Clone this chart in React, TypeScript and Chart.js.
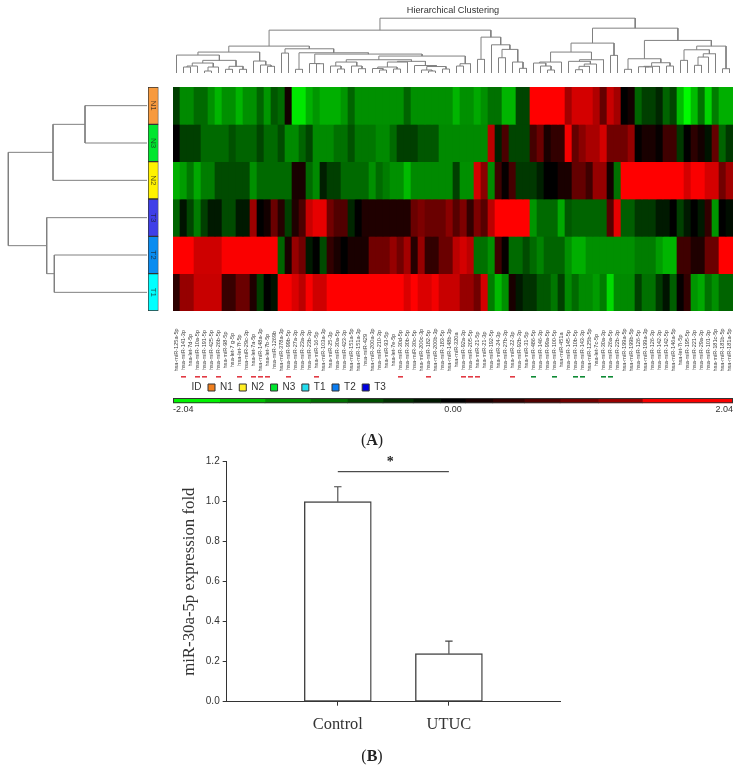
import React, { useEffect, useRef } from "react";
import { Chart, registerables } from "chart.js";

Chart.register(...registerables);

const SANS = '"Liberation Sans", Arial, sans-serif';
const SERIF = '"Liberation Serif", "Times New Roman", serif';

const mirLabels = [
  "hsa-miR-125a-5p","hsa-miR-141-3p","hsa-let-7d-5p","hsa-miR-10a-5p","hsa-miR-191-5p","hsa-miR-425-5p","hsa-miR-26b-5p","hsa-miR-98-5p","hsa-let-7 g-5p","hsa-let-7f-5p",
  "hsa-miR-29c-3p","hsa-let-7a-5p","hsa-miR-148a-3p","hsa-let-7b-5p","hsa-miR-1269b","hsa-miR-378a-3p","hsa-miR-99b-5p","hsa-miR-27a-3p","hsa-miR-23a-3p","hsa-miR-23b-3p",
  "hsa-miR-16-5p","hsa-miR-103a-3p","hsa-miR-25-3p","hsa-miR-30a-5p","hsa-miR-423-3p","hsa-miR-151a-5p","hsa-miR-151a-3p","hsa-miR-429","hsa-miR-200a-3p","hsa-miR-210-3p",
  "hsa-miR-93-5p","hsa-let-7e-5p","hsa-miR-30d-5p","hsa-miR-30b-5p","hsa-miR-30c-5p","hsa-miR-200c-3p","hsa-miR-182-5p","hsa-miR-200b-3p","hsa-miR-183-5p","hsa-miR-148b-3p",
  "hsa-miR-320a","hsa-miR-92a-3p","hsa-miR-205-5p","hsa-miR-21-5p","hsa-miR-21-3p","hsa-miR-192-5p","hsa-miR-24-3p","hsa-miR-27b-3p","hsa-miR-22-3p","hsa-miR-92b-3p",
  "hsa-miR-31-5p","hsa-miR-486-5p","hsa-miR-146-3p","hsa-miR-99a-5p","hsa-miR-100-5p","hsa-miR-451a","hsa-miR-145-5p","hsa-miR-10b-5p","hsa-miR-143-3p","hsa-miR-125b-5p",
  "hsa-let-7c-5p","hsa-miR-30a-3p","hsa-miR-26a-5p","hsa-miR-22b-3p","hsa-miR-199a-5p","hsa-miR-199b-5p","hsa-miR-126-5p","hsa-miR-199a-3p","hsa-miR-126-3p","hsa-miR-142-3p",
  "hsa-miR-142-5p","hsa-miR-146a-5p","hsa-let-7i-5p","hsa-miR-195-5p","hsa-miR-221-3p","hsa-miR-29a-3p","hsa-miR-101-3p","hsa-miR-181c-5p","hsa-miR-181b-5p","hsa-miR-181a-5p",
];

const sampleLabels = ["N1", "N3", "N2", "T3", "T2", "T1"];
const sampleColors = ["#F79A3E", "#00E62E", "#FFF200", "#3F3FE8", "#0A8CF0", "#00FFFF"];

const heatN1 = [
  -0.5,-1.1,-1.1,-0.85,-0.85,-1.15,-1.45,-1.15,-1.15,-1.45,
  -1.15,-1.15,-0.8,-1.2,-0.7,-0.85,0.15,-1.85,-1.85,-1.4,
  -1.2,-1.4,-1.4,-1.4,-1.2,-0.8,-1.15,-1.15,-1.15,-1.15,
  -1.15,-1.15,-1.15,-0.8,-1.15,-1.15,-1.15,-1.15,-1.15,-1.15,
  -1.45,-1.15,-1.15,-1.35,-1.15,-0.9,-0.9,-1.45,-1.45,-0.55,
  -0.55,2.04,2.04,2.04,2.04,2.04,1.3,1.7,1.7,1.7,
  1.4,0.8,1.6,1.3,0,0.15,-0.8,-0.5,-0.5,-0.3,
  -0.8,-0.55,-1.5,-2,-1.5,-0.9,-1.7,-1.0,-1.4,-1.4,
];
const heatN3 = [
  0,-0.5,-0.5,-0.5,-0.85,-0.85,-0.85,-0.85,-0.65,-0.8,
  -0.8,-0.8,-0.55,-0.85,-0.85,-0.6,-1.1,-1.1,-0.8,-0.55,
  -1.1,-1.1,-1.1,-0.9,-0.9,-0.65,-0.95,-0.95,-0.95,-1.1,
  -1.1,-0.85,-0.5,-0.5,-0.5,-0.7,-0.7,-0.7,-1.1,-1.1,
  -1.1,-1.1,-1.1,-1.1,-1.1,1.5,-0.25,0.6,-0.55,-0.55,
  -0.55,0.55,0.85,0.2,0.4,0.4,1.95,0.8,1.1,1.35,
  1.35,1.7,0.9,0.9,0.9,1.2,0.03,0.2,0.2,0.05,
  0.5,0.5,-0.45,0,0.35,0.15,-0.15,0.8,-0.8,-0.45,
];
const heatN2 = [
  -1.4,-1.25,-0.95,-1.35,-1.0,-1.0,-0.6,-0.6,-0.6,-0.6,
  -0.6,-1.15,-0.85,-0.85,-0.85,-0.85,-0.85,0.2,0.2,-0.85,
  -1.1,-0.25,-0.5,-0.5,-0.85,-0.85,-0.85,-0.85,-1.15,-0.85,
  -1.0,-1.15,-1.15,-1.5,-1.1,-1.1,-1.1,-1.1,-1.1,-1.1,
  -0.5,-1.15,-1.15,1.7,1.1,-1.1,0.5,0.05,0.55,-0.45,
  -0.45,-0.45,-0.25,0,0,0.2,0.2,0.8,0.8,0.5,
  1.2,1.2,0.15,-0.9,2.04,2.04,2.04,2.04,2.04,2.04,
  2.04,2.04,2.04,1.7,2,2,1.7,1.7,0.9,1.3,
];
const heatT3 = [
  -0.8,-0.15,-0.55,-1,-0.5,-0.2,-0.2,-0.6,-0.6,-0.2,
  -0.2,1.25,0,0.15,0.85,0.3,-0.5,0.25,0.6,1.6,
  1.85,1.85,0.9,0.65,0.65,-0.3,0,0.25,0.25,0.25,
  0.25,0.25,0.25,0.25,0.85,1,0.85,0.85,0.85,1.1,
  0.7,1,0.4,1,0.7,1.5,2.04,2.04,2.04,2.04,
  2.04,-1.2,-0.85,-0.85,-0.85,-1.35,-0.7,-0.8,-0.8,-0.8,
  -0.8,-0.8,0.7,1.85,-0.75,-0.75,-0.45,-0.45,-0.45,-0.2,
  -0.2,0,-0.5,-0.2,0,-0.2,0.4,-1.2,0,-0.1,
];
const heatT2 = [
  2.04,2.04,2.04,1.65,1.65,1.65,1.65,2,2,2,
  2,2,2,2,2,-0.8,0.2,1.2,0.9,-0.2,
  0,-0.6,0.4,0.2,0,0.2,0.2,0.2,0.9,0.9,
  0.9,1.2,0.9,1.3,0.3,1.2,0.4,0.4,0.85,0.85,
  1.5,1.7,1.5,-0.9,-0.9,-1.15,0.5,0.05,-0.85,-0.85,
  -0.6,-0.85,-1.05,-0.8,-0.8,-0.8,-1.15,-1.4,-1.4,-1.15,
  -1.15,-1.15,-1.15,-1.15,-1.15,-1.15,-1,-1,-1,-1.25,
  -1.45,-1.45,0.5,0.5,0.25,0.25,0.85,0.85,2.04,2.04,
];
const heatT1 = [
  0.35,1.2,1.2,1.6,1.6,1.6,1.6,0.45,0.45,0.85,
  0.85,0.25,-0.5,0,-0.15,2,2,1.75,1.5,2,
  1.65,1.65,2.04,2.04,2.04,2.04,2.04,2.04,2.04,2.04,
  2.04,2.04,2.04,1.75,2.04,1.75,1.75,1.95,1.6,1.6,
  1.6,1.2,1.2,0.9,1.7,-1,-1.5,-1.15,0.2,-0.2,
  -0.4,-0.4,-0.7,-0.7,-0.95,-0.5,-1.1,-0.85,-1.1,-1.1,
  -1.25,-1,-1.75,-1.1,-1.1,-1.1,-0.5,-0.9,-0.9,-0.45,
  -0.15,-0.75,0.05,0.4,-1.2,-1.35,-0.9,-1.15,-0.8,-0.8,
];
const heatRows = [heatN1, heatN3, heatN2, heatT3, heatT2, heatT1];

const redMarks = [1, 3, 4, 6, 9, 11, 12, 13, 16, 20, 32, 36, 41, 42, 43, 48];
const greenMarks = [51, 54, 57, 58, 61, 62];

type TreeNode = number | [number, TreeNode, TreeNode];

const colTree: TreeNode = [55,
  [43,
    [27,
      [21,
        [18, 0, [12.7, [10, [7, [6, 1, 2], 3], [6, [2, 4, 5], 6]], [6.7, [3.7, 7, 8], [3.7, 9, 10]]]],
        [12, 11, [8, 12, [6.7, 13, 14]]]],
      [24.3,
        [20, 15, 16],
        [20.3,
          [3.7, 17, 18],
          [19,
            [9.5, 19, [9.3, 20, 21]],
            [17,
              [13.3,
                [11, [7, 22, [4, 23, 24]], [7, 25, [4.3, 26, 27]]],
                [11.7,
                  [11, [6, [4.5, 28, [3, 29, 30]], [4, 31, 32]], 33],
                  [7.5, 34, [6.5, [3, 35, [2, 36, 37]], [4, 38, 39]]]]],
              [9.3, [7, 40, 41], 42]]]]]],
    [36,
      [13.7, 43, 44],
      [28.3, 45, [23.7, [15.3, 46, 47], [11, 48, [4.7, 49, 50]]]]]],
  [45,
    [30,
      [21,
        [11, [10, 51, [7, 52, [3, 53, 54]]], 55],
        [13.3, [11.7, 56, [9, [6.7, [3.3, 57, 58], 59], 60]], 61]],
      [17.7, 62, 63]],
    [32.7,
      [14.3,
        [3.7, 64, 65],
        [10.3, [6.7, [6.3, 66, [6, 67, 68]], 69], [7, 70, 71]]],
      [27,
        [23.3,
          [12.7, 72, 73],
          [19.3, [16, [7.7, 74, 75], 76], 77]],
        [4.3, 78, 79]]]]];

const rowTree: TreeNode = [138.7, [94, [62, 0, 1], 2], [100.3, 3, [92.7, 4, 5]]];

const bandEdges = [-2.04, -1.7, -1.37, -1.04, -0.77, -0.51, -0.29, -0.09, 0.09, 0.29, 0.52, 0.78, 1.06, 1.38, 2.04];
const bandValues = [-1.95, -1.55, -1.2, -0.9, -0.64, -0.4, -0.19, 0, 0.19, 0.4, 0.65, 0.92, 1.22, 2.0];
const scaleTicks = [-2.04, 0, 2.04];

const legendNames = ["ID", "N1", "N2", "N3", "T1", "T2", "T3"];
const legendColors = ["transparent", "#F07F1E", "#FFEE22", "#00E62E", "#22DDEE", "#0A7CF0", "#0000E0"];

const barCategories = ["", "Control", "UTUC", ""];
const barValues = [null, 1.0, 0.24, null];
const barErrorTops = [null, 1.075, 0.303, null];
const sigLine = [null, 1.15, 1.15, null];
const yAxisTitle = "miR-30a-5p expression fold";

function heatColor(v: number): string {
  const t = Math.min(1, Math.abs(v) / 2.04);
  const c = Math.round(t * 255);
  return v >= 0 ? `rgb(${c},0,0)` : `rgb(0,${c},0)`;
}

function treeSegments(node: TreeNode, base: number, out: any[], swap: boolean): { pos: number; h: number } {
  if (typeof node === "number") return { pos: node + base, h: 0 };
  const [h, l, r] = node;
  const a = treeSegments(l, base, out, swap);
  const b = treeSegments(r, base, out, swap);
  const pts = [[a.pos, a.h], [a.pos, h], [b.pos, h], [b.pos, b.h]];
  for (const [p, q] of pts) out.push(swap ? { x: q, y: p } : { x: p, y: q });
  out.push({ x: NaN, y: NaN });
  return { pos: (a.pos + b.pos) / 2, h };
}

const off = { display: false } as any;
const base = { responsive: false, animation: false, devicePixelRatio: 1, events: [] as any[] };
const noPlugins = { legend: off, title: off, tooltip: { enabled: false } };

function App() {
  const treeTop = useRef<HTMLCanvasElement>(null);
  const heat = useRef<HTMLCanvasElement>(null);
  const treeLeft = useRef<HTMLCanvasElement>(null);
  const strip = useRef<HTMLCanvasElement>(null);
  const colorBar = useRef<HTMLCanvasElement>(null);
  const bars = useRef<HTMLCanvasElement>(null);

  useEffect(() => {
    const charts: Chart[] = [];

    const topPts: any[] = [];
    treeSegments(colTree, 0, topPts, false);
    charts.push(new Chart(treeTop.current!, {
      type: "scatter",
      data: { datasets: [{ data: topPts, showLine: true, spanGaps: false, pointRadius: 0, borderColor: "#808080", borderWidth: 1, clip: false } as any] },
      options: {
        ...base,
        layout: { padding: { left: 173, right: 13, top: 0, bottom: 7 } },
        plugins: {
          legend: off,
          tooltip: { enabled: false },
          title: { display: true, text: "Hierarchical Clustering", color: "#333", font: { family: SANS, size: 9.2, weight: "normal", lineHeight: 1 }, padding: { top: 5.5, bottom: 2.5 } },
        },
        scales: {
          x: { type: "linear", display: false, min: -0.5, max: 79.5 },
          y: { type: "linear", display: false, min: 0, max: 56 },
        },
      } as any,
    }));

    const labelPlugin = {
      id: "colLabels",
      afterDraw(chart: any) {
        const { ctx, scales } = chart;
        ctx.save();
        ctx.fillStyle = "#3a3a3a";
        ctx.font = `5.6px ${SANS}`;
        ctx.textAlign = "center";
        ctx.textBaseline = "middle";
        mirLabels.forEach((t, i) => {
          ctx.save();
          ctx.translate(scales.x.getPixelForValue(i), 270);
          ctx.rotate(-Math.PI / 2);
          ctx.fillText(t, 0, 0);
          ctx.restore();
        });
        ctx.fillStyle = "#e23a44";
        redMarks.forEach((i) => ctx.fillRect(scales.x.getPixelForValue(i) - 2.5, 296, 5, 1.6));
        ctx.fillStyle = "#0e8a34";
        greenMarks.forEach((i) => ctx.fillRect(scales.x.getPixelForValue(i) - 2.5, 296, 5, 1.6));
        ctx.restore();
      },
    };
    charts.push(new Chart(heat.current!, {
      type: "bar",
      data: {
        labels: mirLabels,
        datasets: heatRows.map((row, r) => ({
          label: sampleLabels[r],
          data: row.map(() => 1),
          backgroundColor: row.map(heatColor),
          borderWidth: 0,
          barPercentage: 1,
          categoryPercentage: 1,
        })),
      },
      options: {
        ...base,
        layout: { padding: { left: 173, right: 13, top: 7, bottom: 69 } },
        plugins: noPlugins,
        scales: {
          x: { type: "category", display: false, stacked: true },
          y: { type: "linear", display: false, stacked: true, reverse: true, min: 0, max: 6 },
        },
      } as any,
      plugins: [labelPlugin],
    }));

    const leftPts: any[] = [];
    treeSegments(rowTree, 0.5, leftPts, true);
    charts.push(new Chart(treeLeft.current!, {
      type: "scatter",
      data: { datasets: [{ data: leftPts, showLine: true, spanGaps: false, pointRadius: 0, borderColor: "#808080", borderWidth: 1, clip: false } as any] },
      options: {
        ...base,
        layout: { padding: { left: 8.3, right: 3, top: 7, bottom: 9 } },
        plugins: noPlugins,
        scales: {
          x: { type: "linear", display: false, reverse: true, min: 0, max: 138.7 },
          y: { type: "linear", display: false, reverse: true, min: 0, max: 6 },
        },
      } as any,
    }));

    const stripPlugin = {
      id: "stripText",
      afterDraw(chart: any) {
        const { ctx, scales, chartArea } = chart;
        ctx.save();
        ctx.fillStyle = "rgba(30,30,30,0.75)";
        ctx.font = `8px ${SANS}`;
        ctx.textAlign = "center";
        ctx.textBaseline = "middle";
        sampleLabels.forEach((t, i) => {
          ctx.save();
          ctx.translate((chartArea.left + chartArea.right) / 2, scales.y.getPixelForValue(i));
          ctx.rotate(Math.PI / 2);
          ctx.fillText(t, 0, 0);
          ctx.restore();
        });
        ctx.restore();
      },
    };
    charts.push(new Chart(strip.current!, {
      type: "bar",
      data: {
        labels: sampleLabels,
        datasets: [{ data: sampleLabels.map(() => 1), backgroundColor: sampleColors, borderColor: "#333", borderWidth: 1, borderSkipped: false, barPercentage: 1, categoryPercentage: 1 }],
      },
      options: {
        ...base,
        indexAxis: "y",
        layout: { padding: { left: 8, right: 6.5, top: 7, bottom: 9 } },
        plugins: noPlugins,
        scales: {
          x: { type: "linear", display: false, min: 0, max: 1 },
          y: { type: "category", display: false },
        },
      } as any,
      plugins: [stripPlugin],
    }));

    const legendFitPlugin = {
      id: "legendFit",
      beforeLayout(chart: any) {
        if (chart.legend) {
          chart.legend.afterFit = function () { this.height -= 6; };
        }
      },
    };
    charts.push(new Chart(colorBar.current!, {
      type: "bar",
      data: {
        labels: [""],
        datasets: [
          ...bandValues.map((v, i) => ({
            data: [[bandEdges[i], bandEdges[i + 1]]],
            backgroundColor: heatColor(v),
            borderWidth: 0,
            barPercentage: 1,
            categoryPercentage: 1,
          })),
          {
            data: [[bandEdges[0], bandEdges[bandEdges.length - 1]]],
            backgroundColor: "transparent",
            borderColor: "#333",
            borderWidth: 0.7,
            borderSkipped: false,
            barPercentage: 1,
            categoryPercentage: 1,
            order: -1,
          },
        ],
      },
      options: {
        ...base,
        indexAxis: "y",
        layout: { padding: { left: 173, right: 13, top: 1, bottom: 0 } },
        plugins: {
          title: off,
          tooltip: { enabled: false },
          legend: {
            display: true,
            position: "top",
            align: "start",
            labels: {
              boxWidth: 7,
              boxHeight: 7,
              padding: 6.5,
              color: "#333",
              font: { family: SANS, size: 10, lineHeight: 1 },
              generateLabels: () =>
                legendNames.map((text, i) => ({
                  text,
                  fillStyle: legendColors[i],
                  strokeStyle: i === 0 ? "transparent" : "#333",
                  lineWidth: 1,
                  hidden: false,
                  datasetIndex: 0,
                  fontColor: "#333",
                })),
            },
          },
        },
        scales: {
          x: {
            type: "linear",
            min: -2.04,
            max: 2.04,
            afterBuildTicks: (ax: any) => { ax.ticks = scaleTicks.map((value) => ({ value })); },
            afterFit: (ax: any) => { ax.height = 16.7; },
            grid: { display: false, drawTicks: false },
            border: { display: false },
            ticks: {
              align: "inner",
              maxRotation: 0,
              autoSkip: false,
              padding: 1,
              color: "#333",
              font: { family: SANS, size: 9 },
              callback: (v: any) => Number(v).toFixed(2),
            },
          },
          y: { type: "category", stacked: true, display: false },
        },
      } as any,
      plugins: [legendFitPlugin],
    }));

    const errorPlugin = {
      id: "errorBars",
      afterDatasetsDraw(chart: any) {
        const { ctx, scales } = chart;
        ctx.save();
        ctx.strokeStyle = "#444";
        ctx.lineWidth = 1.1;
        barErrorTops.forEach((top, i) => {
          if (top == null || barValues[i] == null) return;
          const x = scales.x.getPixelForValue(i);
          const y0 = scales.y.getPixelForValue(barValues[i] as number);
          const y1 = scales.y.getPixelForValue(top);
          ctx.beginPath();
          ctx.moveTo(x, y0);
          ctx.lineTo(x, y1);
          ctx.moveTo(x - 3.7, y1);
          ctx.lineTo(x + 3.7, y1);
          ctx.stroke();
        });
        ctx.fillStyle = "#222";
        ctx.font = `bold 14px ${SERIF}`;
        ctx.textAlign = "center";
        ctx.textBaseline = "middle";
        ctx.fillText("*", (scales.x.getPixelForValue(1) + scales.x.getPixelForValue(2)) / 2 - 3, scales.y.getPixelForValue(1.15) - 9);
        ctx.restore();
      },
    };
    charts.push(new Chart(bars.current!, {
      type: "bar",
      data: {
        labels: barCategories,
        datasets: [
          { type: "line", data: sigLine, borderColor: "#222", borderWidth: 1, pointRadius: 0, spanGaps: false, order: 0 },
          { type: "bar", data: barValues, backgroundColor: "#fff", borderColor: "#444", borderWidth: 1.4, borderSkipped: false, barThickness: 67, order: 1 },
        ],
      },
      options: {
        ...base,
        layout: { padding: { left: 180, right: 186, top: 41.7, bottom: 30 } },
        plugins: noPlugins,
        scales: {
          x: {
            type: "category",
            offset: false,
            afterBuildTicks: (ax: any) => { ax.ticks = ax.ticks.filter((t: any) => barCategories[t.value] !== ""); },
            afterFit: (ax: any) => { ax.height = 39.3; },
            grid: { offset: false, drawOnChartArea: false, drawTicks: true, tickLength: 4, tickColor: "#333" },
            border: { color: "#333", width: 1 },
            ticks: { autoSkip: false, maxRotation: 0, padding: 9, color: "#333", font: { family: SERIF, size: 16.4 } },
          },
          y: {
            type: "linear",
            min: 0,
            max: 1.2,
            afterFit: (ax: any) => { ax.width = 46.7; },
            title: { display: true, text: yAxisTitle, color: "#333", padding: 0, font: { family: SERIF, size: 16.8, lineHeight: 1.2 } },
            grid: { drawOnChartArea: false, drawTicks: true, tickLength: 4, tickColor: "#333" },
            border: { color: "#333", width: 1 },
            ticks: { stepSize: 0.2, padding: 3, color: "#333", font: { family: SANS, size: 10 }, callback: (v: any) => Number(v).toFixed(1) },
          },
        },
      } as any,
      plugins: [errorPlugin],
    }));

    return () => charts.forEach((c) => c.destroy());
  }, []);

  const at = (left: number, top: number): React.CSSProperties => ({ position: "absolute", left, top, display: "block" });
  const caption: React.CSSProperties = { position: "absolute", width: 60, textAlign: "center", fontFamily: SERIF, fontSize: 16, lineHeight: "18px", color: "#222" };

  return (
    <div>
      <canvas ref={treeTop} width={746} height={80} style={at(0, 0)} />
      <canvas ref={heat} width={746} height={300} style={at(0, 80)} />
      <canvas ref={treeLeft} width={150} height={240} style={at(0, 80)} />
      <canvas ref={strip} width={25} height={240} style={at(140, 80)} />
      <canvas ref={colorBar} width={746} height={45} style={at(0, 375)} />
      <canvas ref={bars} width={746} height={351} style={at(0, 420)} />
      <div style={{ ...caption, left: 342, top: 431 }}>(<b>A</b>)</div>
      <div style={{ ...caption, left: 342, top: 747 }}>(<b>B</b>)</div>
    </div>
  );
}

export default App;
